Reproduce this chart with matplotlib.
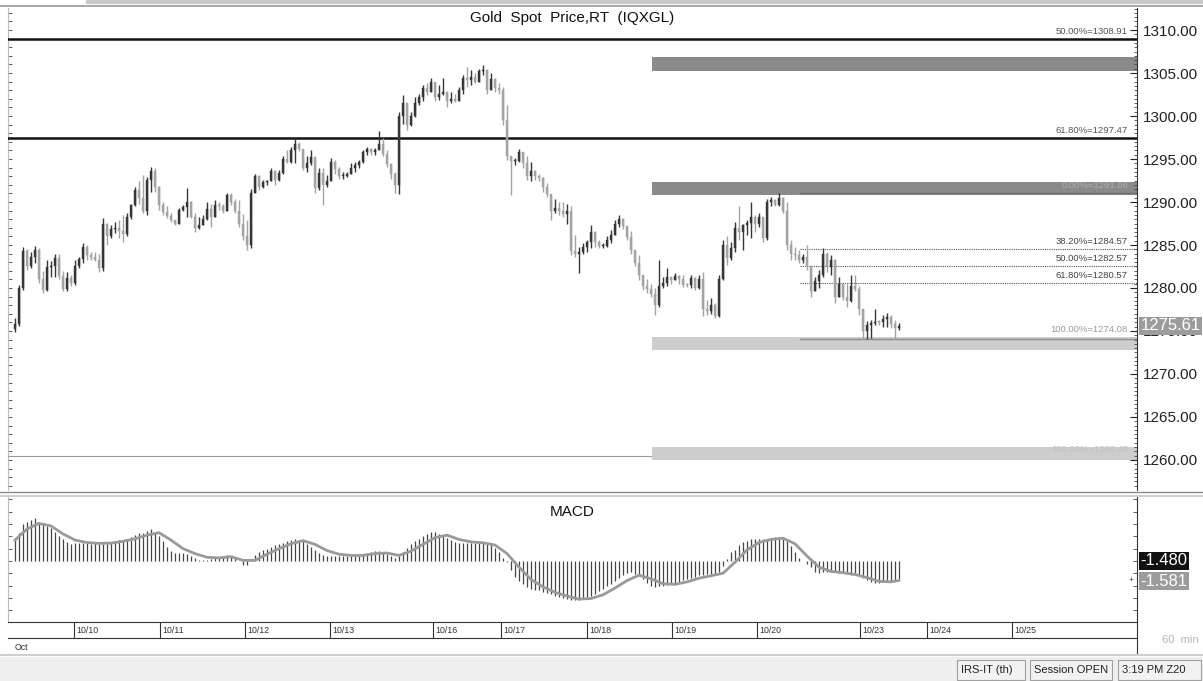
import numpy as np
import matplotlib
matplotlib.use("Agg")
import matplotlib.pyplot as plt
from matplotlib.ticker import MultipleLocator, NullFormatter
from matplotlib.lines import Line2D
from matplotlib.patches import Rectangle

plt.rcParams["font.family"] = ["Liberation Sans", "DejaVu Sans"]

# ---- data (60 min bars)
first_open = 1275.2
close = [1275.8, 1280.0, 1284.3, 1282.6, 1283.6, 1284.4, 1281.0, 1279.8, 1282.4, 1282.6,
         1283.5, 1281.4, 1279.9, 1281.2, 1280.6, 1282.5, 1283.4, 1284.8, 1283.8, 1283.6,
         1283.3, 1282.3, 1287.5, 1286.0, 1286.9, 1287.0, 1286.6, 1286.3, 1288.2, 1289.6,
         1291.4, 1290.5, 1289.0, 1292.6, 1293.6, 1291.8, 1289.6, 1288.8, 1288.4, 1287.9,
         1287.5, 1289.1, 1289.4, 1290.0, 1288.3, 1287.0, 1287.3, 1288.0, 1289.2, 1288.2,
         1289.7, 1289.5, 1289.0, 1290.8, 1290.0, 1288.9, 1287.5, 1286.0, 1285.0, 1291.0,
         1293.0, 1291.8, 1292.3, 1292.4, 1293.6, 1292.6, 1293.4, 1295.0, 1294.7, 1296.0,
         1296.8, 1296.2, 1294.0, 1294.5, 1295.2, 1291.6, 1293.4, 1292.0, 1292.5, 1294.6,
         1293.8, 1293.0, 1293.0, 1293.3, 1294.0, 1294.3, 1294.6, 1295.8, 1296.2, 1295.8,
         1296.0, 1296.8, 1295.6, 1294.4, 1293.2, 1292.0, 1300.0, 1301.5, 1299.0, 1300.0,
         1301.5, 1302.2, 1303.2, 1302.8, 1304.0, 1302.2, 1302.6, 1302.8, 1301.8, 1302.0,
         1301.8, 1303.0, 1304.4, 1304.2, 1304.5, 1304.0, 1305.2, 1305.4, 1303.0, 1304.3,
         1303.2, 1303.0, 1299.5, 1295.3, 1294.8, 1294.8, 1295.8, 1294.5, 1293.0, 1293.6,
         1293.0, 1292.8, 1291.8, 1290.9, 1289.0, 1289.3, 1288.9, 1288.6, 1289.0, 1284.3,
         1284.0, 1284.2, 1284.8, 1285.3, 1286.5, 1285.4, 1284.9, 1284.9, 1285.6, 1286.2,
         1287.4, 1288.0, 1287.2, 1285.9, 1284.4, 1282.9, 1281.5, 1280.2, 1279.9, 1279.3,
         1278.0, 1280.2, 1280.6, 1281.3, 1280.9, 1281.4, 1281.0, 1280.4, 1280.3, 1281.2,
         1280.0, 1281.0, 1277.5, 1277.3, 1278.0, 1276.8, 1281.0, 1285.0, 1283.5, 1284.6,
         1287.0, 1286.5, 1287.3, 1287.6, 1288.3, 1287.5, 1288.2, 1285.8, 1290.0, 1290.2,
         1289.7, 1290.5, 1289.0, 1285.0, 1284.0, 1283.8, 1283.3, 1283.6, 1282.6, 1279.6,
         1280.8, 1281.5, 1284.0, 1282.4, 1283.2, 1279.0, 1280.5, 1279.0, 1278.5, 1280.2,
         1279.9, 1277.5, 1275.0, 1275.7, 1275.9, 1276.1, 1276.0, 1276.4, 1276.6, 1275.8,
         1275.3, 1275.61]
high = [1276.5, 1280.3, 1284.8, 1284.5, 1284.2, 1284.9, 1284.6, 1282.0, 1283.2, 1283.1,
        1284.0, 1284.0, 1282.0, 1281.9, 1281.5, 1283.2, 1283.6, 1285.2, 1285.0, 1284.2,
        1284.2, 1284.0, 1288.1, 1287.6, 1287.3, 1287.7, 1287.9, 1288.5, 1288.7, 1289.8,
        1291.8, 1292.4, 1293.1, 1292.9, 1294.1, 1293.9, 1291.9, 1290.0, 1289.5, 1288.7,
        1287.9, 1289.3, 1289.6, 1291.6, 1290.1, 1288.7, 1288.3, 1288.5, 1290.0, 1289.8,
        1290.2, 1290.0, 1289.8, 1291.0, 1291.0, 1290.4, 1290.2, 1288.6, 1287.9, 1291.5,
        1293.3, 1293.1, 1292.6, 1292.6, 1293.9, 1293.7, 1293.7, 1295.3, 1296.0, 1296.4,
        1297.4, 1297.0, 1296.2, 1295.3, 1296.0, 1295.0, 1293.9, 1293.9, 1293.1, 1295.1,
        1294.9, 1294.1, 1293.5, 1293.5, 1294.5, 1294.7, 1294.9, 1296.0, 1296.4, 1296.3,
        1296.3, 1298.2, 1297.4, 1296.0, 1294.5, 1293.5, 1300.5, 1302.4, 1301.5, 1300.5,
        1302.2, 1302.6, 1303.6, 1303.8, 1304.4, 1304.0, 1303.6, 1304.4, 1302.9, 1302.8,
        1302.6, 1303.4, 1304.8, 1305.7, 1305.3, 1305.0, 1305.5, 1305.9, 1305.5, 1305.0,
        1304.4, 1303.8, 1303.4, 1301.3, 1295.3, 1295.1, 1296.2, 1295.8, 1295.3, 1294.7,
        1293.7, 1293.3, 1292.9, 1292.2, 1290.8, 1290.4, 1290.0, 1290.0, 1289.8, 1289.5,
        1286.2, 1284.8, 1285.2, 1285.6, 1287.3, 1286.6, 1285.6, 1285.2, 1286.0, 1286.7,
        1287.9, 1288.5, 1288.1, 1287.2, 1286.6, 1284.4, 1283.8, 1281.5, 1281.1, 1280.5,
        1280.0, 1283.3, 1281.3, 1282.3, 1281.3, 1281.7, 1281.5, 1281.5, 1280.6, 1281.5,
        1281.3, 1281.5, 1281.9, 1278.6, 1278.8, 1278.2, 1281.5, 1285.6, 1286.0, 1285.4,
        1287.7, 1289.5, 1287.5, 1287.9, 1290.0, 1288.5, 1288.7, 1288.3, 1290.4, 1290.6,
        1290.4, 1291.0, 1290.6, 1290.0, 1285.6, 1284.8, 1284.4, 1284.0, 1285.0, 1282.6,
        1281.3, 1282.1, 1284.6, 1284.2, 1283.8, 1283.4, 1281.3, 1280.7, 1280.5, 1281.5,
        1281.5, 1280.2, 1277.6, 1276.2, 1276.3, 1277.5, 1276.3, 1276.9, 1277.1, 1276.9,
        1276.3, 1275.9]
low = [1274.9, 1275.6, 1279.8, 1282.1, 1282.3, 1282.9, 1280.6, 1279.4, 1279.6, 1281.3,
       1281.3, 1281.0, 1279.6, 1279.7, 1280.2, 1280.4, 1282.3, 1282.9, 1283.2, 1283.2,
       1283.1, 1281.9, 1282.0, 1285.0, 1285.8, 1286.4, 1285.8, 1285.4, 1286.1, 1288.0,
       1289.5, 1289.8, 1288.7, 1288.5, 1291.2, 1291.2, 1289.1, 1288.5, 1288.1, 1287.7,
       1287.3, 1287.4, 1289.0, 1288.3, 1288.1, 1286.5, 1286.9, 1287.3, 1287.9, 1287.1,
       1288.2, 1289.1, 1288.7, 1289.0, 1289.7, 1288.7, 1287.1, 1285.6, 1284.4, 1284.6,
       1291.0, 1291.4, 1291.6, 1292.0, 1292.4, 1292.0, 1292.5, 1293.3, 1294.5, 1294.5,
       1294.5, 1295.9, 1293.7, 1293.5, 1294.3, 1291.0, 1291.4, 1289.7, 1291.8, 1292.4,
       1293.3, 1292.7, 1292.7, 1292.9, 1293.2, 1293.5, 1293.9, 1294.5, 1295.5, 1295.5,
       1295.5, 1296.0, 1295.3, 1294.1, 1292.7, 1291.0, 1290.9, 1299.1, 1298.4, 1298.8,
       1299.9, 1301.3, 1301.7, 1302.4, 1302.8, 1301.7, 1301.9, 1302.4, 1301.1, 1301.5,
       1301.6, 1301.7, 1302.6, 1303.4, 1303.6, 1303.8, 1304.0, 1304.8, 1302.6, 1303.0,
       1302.8, 1302.6, 1299.0, 1294.9, 1290.8, 1294.3, 1294.7, 1293.9, 1292.6, 1292.4,
       1292.6, 1292.4, 1291.2, 1290.6, 1287.9, 1288.7, 1288.5, 1288.3, 1287.5, 1283.8,
       1283.6, 1281.7, 1284.0, 1284.2, 1284.6, 1284.8, 1284.6, 1284.6, 1284.8, 1285.2,
       1286.2, 1287.1, 1286.9, 1285.6, 1284.0, 1282.5, 1280.9, 1279.8, 1279.4, 1279.0,
       1276.9, 1277.8, 1280.0, 1280.2, 1280.5, 1280.9, 1280.5, 1280.1, 1280.1, 1280.0,
       1279.8, 1279.9, 1276.7, 1276.9, 1277.0, 1276.5, 1276.6, 1280.9, 1282.7, 1283.3,
       1284.2, 1285.6, 1284.4, 1286.2, 1285.8, 1286.5, 1287.1, 1285.4, 1285.6, 1289.5,
       1289.5, 1289.5, 1288.7, 1284.4, 1283.3, 1283.3, 1282.9, 1282.9, 1282.1, 1279.0,
       1279.6, 1280.0, 1281.3, 1281.9, 1281.5, 1278.2, 1279.0, 1278.6, 1277.8, 1278.4,
       1279.6, 1276.9, 1274.1, 1274.1, 1274.2, 1275.7, 1275.7, 1275.5, 1275.5, 1275.3,
       1274.1, 1275.1]

macd_hist = [1.84, 2.30, 2.98, 3.14, 3.30, 3.47, 3.17, 3.03, 2.84, 2.68,
             2.38, 2.06, 1.79, 1.57, 1.41, 1.43, 1.43, 1.46, 1.43, 1.41,
             1.43, 1.38, 1.38, 1.41, 1.54, 1.65, 1.70, 1.70, 1.73, 1.95,
             2.11, 2.30, 2.30, 2.44, 2.57, 2.38, 2.06, 1.62, 1.16, 0.81,
             0.62, 0.62, 0.65, 0.54, 0.38, 0.21, 0.10, 0.05, 0.08, 0.19,
             0.21, 0.30, 0.38, 0.46, 0.38, 0.21, 0.02, -0.30, -0.30, 0.16,
             0.49, 0.70, 0.87, 1.00, 1.14, 1.27, 1.41, 1.49, 1.62, 1.70,
             1.76, 1.68, 1.60, 1.38, 1.16, 0.89, 0.65, 0.51, 0.43, 0.40,
             0.40, 0.40, 0.40, 0.40, 0.40, 0.43, 0.43, 0.51, 0.62, 0.70,
             0.78, 0.78, 0.70, 0.54, 0.38, 0.21, 0.40, 0.73, 1.05, 1.38,
             1.65, 1.81, 2.00, 2.19, 2.33, 2.33, 2.22, 2.11, 1.89, 1.70,
             1.52, 1.49, 1.43, 1.49, 1.43, 1.49, 1.49, 1.43, 1.38, 1.27,
             1.05, 0.73, 0.24, -0.11, -0.73, -1.28, -1.60, -1.87, -2.12, -2.25,
             -2.33, -2.39, -2.50, -2.58, -2.71, -2.82, -2.93, -3.04, -3.09, -3.15,
             -3.17, -3.20, -3.12, -2.96, -2.82, -2.66, -2.47, -2.28, -2.06, -1.85,
             -1.60, -1.39, -1.17, -1.01, -0.92, -1.03, -1.25, -1.49, -1.79, -2.03,
             -2.09, -2.06, -2.01, -1.95, -1.87, -1.79, -1.71, -1.57, -1.49, -1.39,
             -1.28, -1.17, -1.14, -1.06, -1.06, -1.11, -0.92, -0.38, 0.16, 0.70,
             0.92, 1.30, 1.54, 1.65, 1.76, 1.76, 1.79, 1.76, 1.76, 1.87,
             1.92, 1.92, 1.84, 1.65, 1.22, 0.76, 0.27, -0.03, -0.27, -0.52,
             -0.87, -0.98, -0.87, -0.87, -0.87, -0.92, -1.01, -1.01, -1.06, -1.14,
             -1.17, -1.25, -1.39, -1.55, -1.71, -1.76, -1.76, -1.71, -1.68, -1.65,
             -1.60, -1.48]
signal_bar = list(range(0, 222, 3)) + [221]
signal = [1.70, 2.60, 3.05, 2.85, 2.20, 1.70, 1.50, 1.43, 1.45, 1.60,
          1.80, 2.10, 2.30, 1.70, 1.00, 0.60, 0.30, 0.25, 0.35, 0.05,
          0.05, 0.55, 1.00, 1.40, 1.65, 1.35, 0.85, 0.55, 0.45, 0.45,
          0.60, 0.65, 0.45, 0.80, 1.35, 1.90, 2.10, 1.75, 1.55, 1.48,
          1.30, 0.60, -0.50, -1.50, -2.10, -2.55, -2.85, -3.10, -3.05, -2.75,
          -2.20, -1.60, -1.15, -1.45, -1.85, -1.90, -1.70, -1.40, -1.20, -1.00,
          -0.10, 0.90, 1.50, 1.75, 1.85, 1.40, 0.40, -0.50, -0.85, -0.95,
          -1.10, -1.35, -1.65, -1.70, -1.581]

day_labels = ["10/10", "10/11", "10/12", "10/13", "10/16", "10/17", "10/18",
              "10/19", "10/20", "10/23", "10/24", "10/25"]
day_start = [14.75, 36.25, 57.5, 78.75, 104.5, 121.5, 143.0, 164.25, 185.5,
             211.25, 228.0, 249.25]

fib_lines = [(1308.91, "50.00%=1308.91"), (1297.47, "61.80%=1297.47")]
fib_dotted = [(1284.57, "38.20%=1284.57"), (1282.57, "50.00%=1282.57"),
              (1280.57, "61.80%=1280.57")]
dark_bands = [(1305.25, 1306.85), (1290.85, 1292.35)]
light_bands = [(1272.8, 1274.3), (1260.0, 1261.5)]
band_start = 159.3
retr_start = 196.3
last_price = 1275.61
macd_last, signal_last = -1.480, -1.581

# ---- layout helpers (pixel -> figure fraction)
W, H = 1203, 681
def fx(px): return px / W
def fy(py): return 1 - py / H

fig = plt.figure(figsize=(W / 100, H / 100), dpi=100, facecolor="white")
XL, XR = 8, 1137
xlim = ((XL - 15) / 4, (XR - 15) / 4)

ax = fig.add_axes([fx(XL), fy(490), fx(XR - XL), (490 - 8) / H])
o = np.r_[first_open, close[:-1]]
c = np.array(close); hi = np.array(high); lo = np.array(low)
x = np.arange(len(c))
up = c >= o
col = np.where(up, "#363636", "#a3a3a3")
ax.vlines(x, lo, hi, colors=col, lw=1.0, zorder=3)
body = np.where(np.abs(c - o) < 0.12, 0.12, c - o)
ax.bar(x, body, bottom=o, width=0.6, color=col, edgecolor=col, lw=0.3, zorder=3)

lab_kw = dict(ha="right", va="bottom", fontsize=6.8)
for lvl, lab in fib_lines:
    ax.axhline(lvl, color="#111111", lw=1.8, zorder=2)
    ax.text(0.992, lvl + 0.35, lab, transform=ax.get_yaxis_transform(), color="#555555", **lab_kw)
ax.axhline(1260.45, color="#9a9a9a", lw=0.8, zorder=1)
for b0, b1 in dark_bands:
    ax.fill_between([band_start, xlim[1]], b0, b1, color="#8a8a8a", lw=0, zorder=1)
for b0, b1 in light_bands:
    ax.fill_between([band_start, xlim[1]], b0, b1, color="#cdcdcd", lw=0, zorder=1)
ax.plot([retr_start, xlim[1]], [1291.06, 1291.06], color="#6e6e6e", lw=1.0, zorder=2)
ax.plot([retr_start, xlim[1]], [1274.08, 1274.08], color="#8a8a8a", lw=1.0, zorder=2)
for lvl, lab in fib_dotted:
    ax.plot([retr_start, xlim[1]], [lvl, lvl], color="#555555", lw=0.8, ls=(0, (1, 1)), zorder=2)
    ax.text(0.992, lvl + 0.35, lab, transform=ax.get_yaxis_transform(), color="#444444", **lab_kw)
ax.text(0.992, 1291.35, "0.00%=1291.06", transform=ax.get_yaxis_transform(),
        color="#b0b0b0", zorder=4, **lab_kw)
ax.text(0.992, 1274.6, "100.00%=1274.08", transform=ax.get_yaxis_transform(),
        color="#9a9a9a", **lab_kw)
ax.text(0.992, 1260.75, "100.00%=1260.45", transform=ax.get_yaxis_transform(),
        color="#c0c0c0", zorder=4, **lab_kw)

ax.set_xlim(*xlim)
ax.set_ylim(1256.51, 1312.56)
ax.set_xticks([])
ax.yaxis.tick_right()
ax.yaxis.set_major_locator(MultipleLocator(5))
ax.yaxis.set_minor_locator(MultipleLocator(0.5))
ax.yaxis.set_major_formatter(lambda v, p: f"{v:.2f}")
ax.tick_params(axis="y", which="major", direction="in", length=5, width=0.8,
               labelsize=11, colors="#222222", pad=4)
ax.tick_params(axis="y", which="minor", direction="in", length=2.5, width=0.6, colors="#444444")
sec = ax.secondary_yaxis("left")
sec.yaxis.set_major_locator(MultipleLocator(1))
sec.yaxis.set_major_formatter(NullFormatter())
sec.tick_params(direction="in", length=3, width=0.6, colors="#444444")
sec.spines["left"].set_color("#bbbbbb")
for s in ("top", "bottom", "left"):
    ax.spines[s].set_visible(False)
ax.spines["right"].set_color("#333333")
ax.annotate(f"{last_price:.2f}", xy=(1.0, last_price), xycoords=ax.get_yaxis_transform(),
            xytext=(2.5, 0), textcoords="offset points", ha="left", va="center",
            fontsize=12, color="white", zorder=6,
            bbox=dict(boxstyle="square,pad=0.1", fc="#9c9c9c", ec="none"))
fig.text(fx(572), fy(18), "Gold  Spot  Price,RT  (IQXGL)", ha="center", va="center",
         fontsize=11, color="#111111")

# ---- MACD panel
ax2 = fig.add_axes([fx(XL), fy(622), fx(XR - XL), (622 - 497) / H])
ax2.vlines(x, 0, macd_hist, colors="#454545", lw=0.9, zorder=2)
ax2.plot(signal_bar, signal, color="#9a9a9a", lw=2.0, zorder=3)
ax2.set_xlim(*xlim)
ax2.set_ylim(-4.96, 5.20)
ax2.set_xticks([])
ax2.yaxis.tick_right()
ax2.yaxis.set_major_locator(MultipleLocator(1))
ax2.yaxis.set_major_formatter(NullFormatter())
ax2.tick_params(axis="y", direction="in", length=3, width=0.6, colors="#444444")
sec2 = ax2.secondary_yaxis("left")
sec2.yaxis.set_major_locator(MultipleLocator(1))
sec2.yaxis.set_major_formatter(NullFormatter())
sec2.tick_params(direction="in", length=3, width=0.6, colors="#444444")
sec2.spines["left"].set_color("#bbbbbb")
for s in ("top", "bottom", "left"):
    ax2.spines[s].set_visible(False)
ax2.spines["right"].set_color("#333333")
ax2.text(0.5, 0.88, "MACD", transform=ax2.transAxes, ha="center", va="center",
         fontsize=11, color="#111111")
ax2.annotate(f"{signal_last:.3f}", xy=(1.0, signal_last), xycoords=ax2.get_yaxis_transform(),
             xytext=(2.5, -0.5), textcoords="offset points", ha="left", va="center",
             fontsize=12, color="white",
             bbox=dict(boxstyle="square,pad=0.08", fc="#9c9c9c", ec="none"))
ax2.annotate(f"{macd_last:.3f}", xy=(1.0, signal_last), xycoords=ax2.get_yaxis_transform(),
             xytext=(2.5, 14), textcoords="offset points", ha="left", va="center",
             fontsize=12, color="white",
             bbox=dict(boxstyle="square,pad=0.08", fc="#111111", ec="none"))
ax2.text(0.9965, signal_last, "+", transform=ax2.get_yaxis_transform(),
         ha="right", va="center", fontsize=6, color="#333333")

# ---- date band
ax3 = fig.add_axes([fx(XL), fy(638), fx(XR - XL), 16 / H])
ax3.set_xlim(*xlim); ax3.set_ylim(0, 1)
ax3.set_xticks([]); ax3.set_yticks([])
for d, lab in zip(day_start, day_labels):
    ax3.axvline(d, color="#333333", lw=0.8)
    ax3.text(d + 0.6, 0.45, lab, ha="left", va="center", fontsize=6.3, color="#333333")
for s in ("left", "right"):
    ax3.spines[s].set_visible(False)
for s in ("top", "bottom"):
    ax3.spines[s].set_color("#333333")

fig.text(fx(15), fy(648), "Oct", fontsize=6.3, color="#333333", va="center")
fig.text(fx(1199), fy(640), "60  min", fontsize=8, color="#b5b5b5", ha="right", va="center")

# ---- window chrome and status bar
fig.add_artist(Line2D([fx(XR), fx(XR)], [fy(622), fy(654)], color="#333333", lw=0.8))
fig.add_artist(Line2D([0, 1], [fy(6), fy(6)], color="#9a9a9a", lw=1.2))
fig.add_artist(Line2D([fx(88), 1], [fy(1.5), fy(1.5)], color="#c8c8c8", lw=3))
fig.add_artist(Line2D([0, 1], [fy(492), fy(492)], color="#8a8a8a", lw=1.0))
fig.add_artist(Line2D([0, 1], [fy(496), fy(496)], color="#d0d0d0", lw=1.5))
fig.add_artist(Line2D([0, 1], [fy(655), fy(655)], color="#cfcfcf", lw=1.5))
fig.add_artist(Rectangle((0, 0), 1, fy(657), transform=fig.transFigure,
                         fc="#efefef", ec="none", zorder=0))
for x0, x1, lab in [(957, 1025, "IRS-IT (th)"), (1030, 1112, "Session OPEN"),
                    (1118, 1201, "3:19 PM Z20")]:
    fig.add_artist(Rectangle((fx(x0), fy(680)), fx(x1 - x0), 20 / H, transform=fig.transFigure,
                             fc="#f2f2f2", ec="#a0a0a0", lw=0.8))
    fig.text(fx(x0 + 4), fy(670), lab, fontsize=8, color="#222222", va="center")

fig.savefig("out.png", dpi=100, facecolor="white")
